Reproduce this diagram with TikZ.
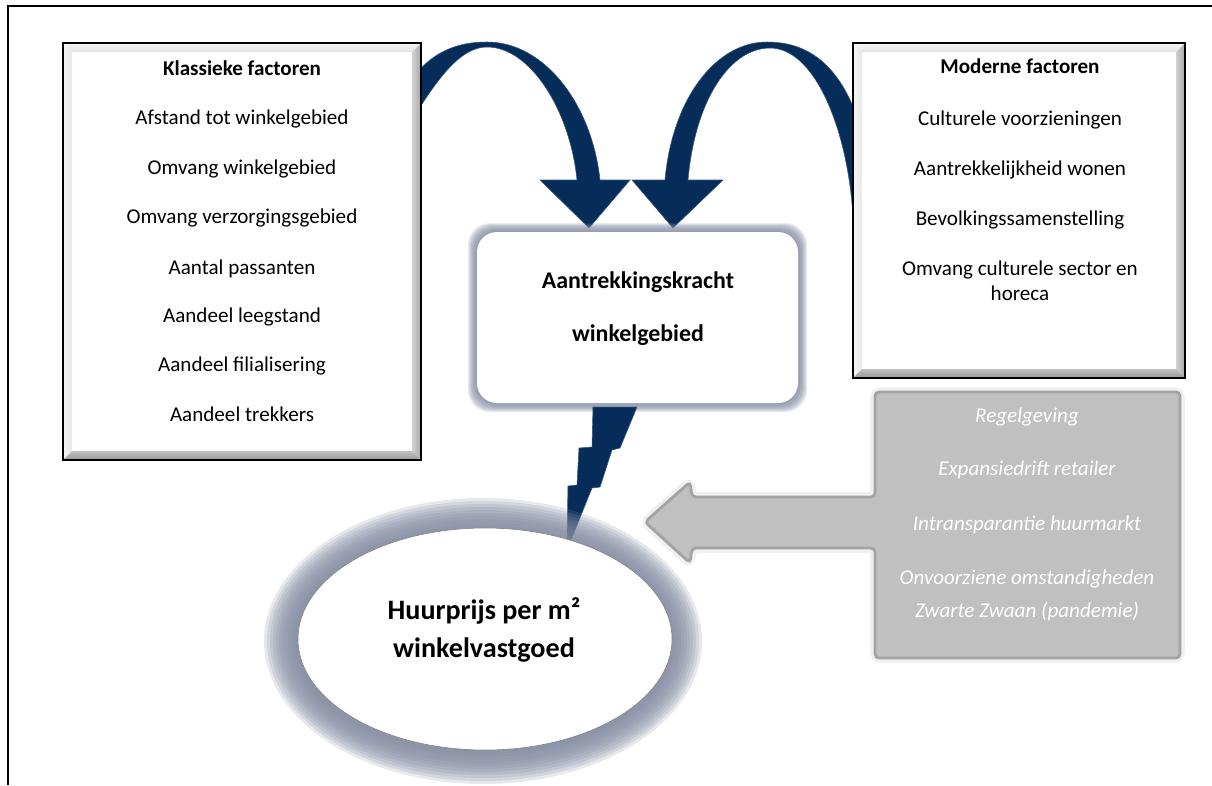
\documentclass[tikz,border=0pt]{standalone}
\usepackage{fontspec}
\setmainfont{Carlito}
\usepackage{tikz}

\definecolor{arrowblue}{RGB}{6,45,90}
\definecolor{glowc}{RGB}{130,138,160}
\definecolor{greybox}{RGB}{192,192,192}

\tikzset{
    factor/.style={font=\fontsize{15}{18}\selectfont, anchor=base},
    factortitle/.style={font=\fontsize{15}{18}\selectfont\bfseries, anchor=base},
    centertext/.style={font=\fontsize{17}{20}\selectfont\bfseries, anchor=base},
    pricetext/.style={font=\fontsize{20}{24}\selectfont\bfseries, anchor=base},
    externtext/.style={font=\fontsize{15}{18}\selectfont\itshape, text=white, anchor=base},
    blockarrow/.style={fill=arrowblue, draw=arrowblue!80!white, line width=0.4pt}
}

% box with a bevelled edge: x1 y1 x2 y2
\newcommand{\facbox}[4]{
    \fill[white] (#1,#2) rectangle (#3,#4);
    \shade[top color=gray!8, bottom color=gray!22] (#1,#2) -- (#3,#2) -- ({#3-9},{#2+9}) -- ({#1+9},{#2+9}) -- cycle;
    \shade[left color=gray!8, right color=gray!18] (#1,#2) -- ({#1+9},{#2+9}) -- ({#1+9},{#4-9}) -- (#1,#4) -- cycle;
    \shade[left color=gray!35, right color=gray!70] (#3,#2) -- (#3,#4) -- ({#3-9},{#4-9}) -- ({#3-9},{#2+9}) -- cycle;
    \shade[top color=gray!50, bottom color=gray!78] (#1,#4) -- (#3,#4) -- ({#3-9},{#4-9}) -- ({#1+9},{#4-9}) -- cycle;
    \draw[line width=1.4pt] (#1,#2) rectangle (#3,#4);
}

\begin{document}
\begin{tikzpicture}[x=0.025cm, y=-0.025cm]
    \useasboundingbox (0,0) rectangle (1212,785);

    % frame
    \draw[line width=1.4pt] (1212,6) -- (8,6) -- (8,785);

    % curved arrows into the centre box
    \fill[blockarrow] (415,75) .. controls (435,50) and (460,42) .. (487,42)
        .. controls (545,42) and (592,105) .. (600,180) -- (630,180) -- (589,228) -- (540,180) -- (577,180)
        .. controls (570,110) and (530,47) .. (487,47)
        .. controls (462,47) and (440,75) .. (415,115) -- cycle;
    \fill[blockarrow] (665,180) .. controls (672,100) and (715,42) .. (767,42)
        .. controls (820,42) and (845,80) .. (860,125) -- (860,230) -- (853,217)
        .. controls (848,130) and (815,48) .. (770,48)
        .. controls (730,48) and (695,100) .. (688,180) -- (723,180) -- (673,228) -- (632,180) -- cycle;

    % factor boxes
    \facbox{63}{43}{421}{460}
    \facbox{853}{43}{1185}{378}

    \node[factortitle] (klassiek) at (242,75) {Klassieke factoren};
    \node[factor] (kl1) at (242,124) {Afstand tot winkelgebied};
    \node[factor] (kl2) at (242,174) {Omvang winkelgebied};
    \node[factor] (kl3) at (242,223) {Omvang verzorgingsgebied};
    \node[factor] (kl4) at (242,274) {Aantal passanten};
    \node[factor] (kl5) at (242,322) {Aandeel leegstand};
    \node[factor] (kl6) at (242,371) {Aandeel filialisering};
    \node[factor] (kl7) at (242,421) {Aandeel trekkers};

    \node[factortitle] (modern) at (1020,73) {Moderne factoren};
    \node[factor] (mo1) at (1020,125) {Culturele voorzieningen};
    \node[factor] (mo2) at (1020,175) {Aantrekkelijkheid wonen};
    \node[factor] (mo3) at (1020,225) {Bevolkingssamenstelling};
    \node[factor] (mo4) at (1020,275) {Omvang culturele sector en};
    \node[factor] (mo5) at (1020,300) {horeca};

    % centre box
    \foreach \r in {9,8,...,1}
        \fill[glowc, opacity=0.18, rounded corners=0.55cm] ({477-\r},{232-\r}) rectangle ({798+\r},{403+\r});
    \fill[white, rounded corners=0.5cm] (477,232) rectangle (798,403);
    \node[centertext] (kracht1) at (638,288) {Aantrekkingskracht};
    \node[centertext] (kracht2) at (638,341) {winkelgebied};

    % lightning bolt
    \fill[blockarrow] (593,407) -- (637,407) -- (620,448) -- (612,450) -- (600,487) -- (592,488)
        -- (571,540) -- (567,540) -- (568,486) -- (577,485) -- (579,448) -- (592,447) -- cycle;

    % grey block arrow
    \draw[greybox!80!black, line width=7pt, opacity=0.15, rounded corners=0.15cm]
        (875,392) -- (1180,392) -- (1180,658) -- (875,658) -- (875,548) -- (692,548) -- (690,563)
        -- (645,522) -- (690,482) -- (692,497) -- (875,497) -- cycle;
    \filldraw[fill=greybox, draw=greybox!85!black, line width=2pt, rounded corners=0.1cm]
        (875,392) -- (1180,392) -- (1180,658) -- (875,658) -- (875,548) -- (692,548) -- (690,563)
        -- (645,522) -- (690,482) -- (692,497) -- (875,497) -- cycle;
    \node[externtext] (ex1) at (1027,422) {Regelgeving};
    \node[externtext] (ex2) at (1027,475) {Expansiedrift retailer};
    \node[externtext] (ex3) at (1027,530) {Intransparantie huurmarkt};
    \node[externtext] (ex4) at (1027,584) {Onvoorziene omstandigheden};
    \node[externtext] (ex5) at (1027,617) {Zwarte Zwaan (pandemie)};

    % rent ellipse
    \foreach \r in {32,29,...,2}
        \fill[glowc, opacity=0.2] (483,641) ellipse ({187+\r} and {111+\r});
    \filldraw[fill=white, draw=gray, line width=0.4pt] (485,639) ellipse (187 and 111);
    \node[pricetext] (prijs1) at (484,619) {Huurprijs per m²};
    \node[pricetext] (prijs2) at (484,657) {winkelvastgoed};
\end{tikzpicture}
\end{document}
